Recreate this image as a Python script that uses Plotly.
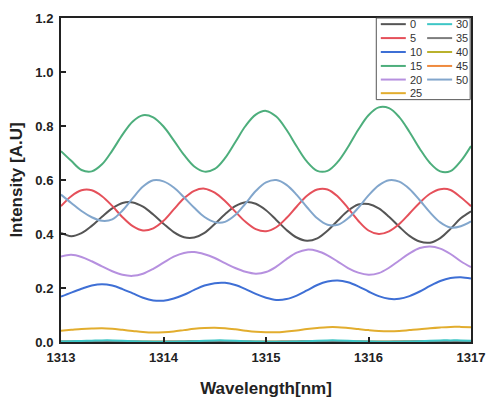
import plotly.graph_objects as go

# Wavelength grid (nm) shared by every spectrum
wavelength = [round(1313 + 0.1 * i, 1) for i in range(41)]

# Transmitted intensity for each setting (a.u.)
i_0 = [0.404, 0.392, 0.403, 0.430, 0.464, 0.495, 0.515, 0.517, 0.501, 0.472,
       0.438, 0.407, 0.388, 0.387, 0.404, 0.437, 0.473, 0.503, 0.518, 0.512,
       0.488, 0.452, 0.415, 0.387, 0.375, 0.384, 0.412, 0.450, 0.486, 0.509,
       0.511, 0.495, 0.464, 0.427, 0.393, 0.372, 0.368, 0.385, 0.419, 0.458,
       0.484]
i_5 = [0.503, 0.540, 0.562, 0.562, 0.540, 0.504, 0.462, 0.429, 0.413, 0.421,
       0.449, 0.491, 0.532, 0.560, 0.568, 0.553, 0.522, 0.483, 0.445, 0.418,
       0.410, 0.425, 0.459, 0.502, 0.542, 0.565, 0.565, 0.539, 0.496, 0.449,
       0.413, 0.400, 0.410, 0.437, 0.476, 0.516, 0.549, 0.566, 0.563, 0.536,
       0.503]
i_10 = [0.168, 0.183, 0.197, 0.209, 0.214, 0.209, 0.196, 0.180, 0.164, 0.154,
        0.153, 0.161, 0.175, 0.193, 0.209, 0.218, 0.219, 0.211, 0.196, 0.178,
        0.164, 0.156, 0.159, 0.172, 0.191, 0.211, 0.224, 0.228, 0.221, 0.206,
        0.187, 0.170, 0.160, 0.160, 0.170, 0.187, 0.208, 0.226, 0.237, 0.240,
        0.235]
i_15 = [0.707, 0.671, 0.637, 0.632, 0.658, 0.709, 0.768, 0.817, 0.840, 0.832,
        0.798, 0.747, 0.693, 0.650, 0.631, 0.641, 0.681, 0.740, 0.800, 0.842,
        0.856, 0.835, 0.786, 0.724, 0.668, 0.634, 0.634, 0.667, 0.722, 0.786,
        0.840, 0.869, 0.866, 0.833, 0.778, 0.716, 0.663, 0.632, 0.633, 0.670,
        0.726]
i_20 = [0.317, 0.323, 0.315, 0.299, 0.280, 0.262, 0.249, 0.245, 0.253, 0.271,
        0.294, 0.316, 0.330, 0.333, 0.325, 0.311, 0.292, 0.274, 0.260, 0.253,
        0.259, 0.279, 0.307, 0.331, 0.342, 0.337, 0.321, 0.298, 0.274, 0.257,
        0.249, 0.255, 0.275, 0.302, 0.328, 0.348, 0.354, 0.346, 0.326, 0.299,
        0.277]
i_25 = [0.042, 0.045, 0.048, 0.050, 0.051, 0.049, 0.045, 0.041, 0.037, 0.035,
        0.036, 0.039, 0.044, 0.049, 0.052, 0.053, 0.051, 0.047, 0.042, 0.038,
        0.036, 0.036, 0.039, 0.043, 0.048, 0.052, 0.055, 0.055, 0.052, 0.048,
        0.044, 0.041, 0.040, 0.041, 0.044, 0.047, 0.051, 0.054, 0.056, 0.056,
        0.055]
i_30 = [0.002, 0.003, 0.004, 0.005, 0.006, 0.006, 0.005, 0.003, 0.002, 0.001,
        0.001, 0.001, 0.002, 0.003, 0.005, 0.006, 0.006, 0.005, 0.003, 0.002,
        0.001, 0.001, 0.001, 0.002, 0.003, 0.005, 0.006, 0.006, 0.005, 0.003,
        0.002, 0.001, 0.001, 0.001, 0.002, 0.003, 0.005, 0.006, 0.006, 0.006,
        0.005]
i_35 = [0.002, 0.002, 0.003, 0.003, 0.003, 0.003, 0.002, 0.002, 0.001, 0.001,
        0.001, 0.002, 0.002, 0.003, 0.003, 0.003, 0.003, 0.002, 0.002, 0.001,
        0.001, 0.001, 0.002, 0.002, 0.003, 0.003, 0.003, 0.003, 0.002, 0.002,
        0.001, 0.001, 0.001, 0.002, 0.002, 0.003, 0.003, 0.003, 0.003, 0.002,
        0.002]
i_40 = [0.001, 0.001, 0.002, 0.002, 0.002, 0.002, 0.002, 0.001, 0.001, 0.001,
        0.001, 0.001, 0.001, 0.002, 0.002, 0.002, 0.002, 0.002, 0.001, 0.001,
        0.001, 0.001, 0.001, 0.001, 0.002, 0.002, 0.002, 0.002, 0.002, 0.001,
        0.001, 0.001, 0.001, 0.001, 0.002, 0.002, 0.002, 0.002, 0.002, 0.002,
        0.001]
i_45 = [0.001, 0.001, 0.001, 0.001, 0.001, 0.001, 0.001, 0.001, 0.001, 0.001,
        0.001, 0.001, 0.001, 0.001, 0.001, 0.001, 0.001, 0.001, 0.001, 0.001,
        0.001, 0.001, 0.001, 0.001, 0.001, 0.001, 0.001, 0.001, 0.001, 0.001,
        0.001, 0.001, 0.001, 0.001, 0.001, 0.001, 0.001, 0.001, 0.001, 0.001,
        0.001]
i_50 = [0.546, 0.515, 0.485, 0.462, 0.449, 0.454, 0.487, 0.533, 0.576, 0.599,
        0.595, 0.572, 0.536, 0.497, 0.463, 0.444, 0.445, 0.470, 0.513, 0.559,
        0.591, 0.600, 0.582, 0.545, 0.499, 0.458, 0.434, 0.434, 0.458, 0.497,
        0.543, 0.580, 0.599, 0.594, 0.567, 0.525, 0.480, 0.443, 0.424, 0.429,
        0.447]

series_names = ["0", "5", "10", "15", "20", "25", "30", "35", "40", "45", "50"]
series_values = [i_0, i_5, i_10, i_15, i_20, i_25, i_30, i_35, i_40, i_45, i_50]
series_colors = ["#555555", "#e5505a", "#3e6fd5", "#4dae7c", "#b690df", "#e2ad2e",
                 "#3ec6c6", "#7d7d7d", "#b9b12c", "#ef8a3e", "#82a6cc"]

# draw the near-zero curves first so the visible ones sit on top
draw_order = [9, 8, 7, 6, 5, 4, 2, 0, 1, 10, 3]

fig = go.Figure()
for k in draw_order:
    fig.add_trace(go.Scatter(
        x=wavelength, y=series_values[k], name=series_names[k], mode="lines",
        line=dict(color=series_colors[k], width=2, shape="spline", smoothing=1.0),
        showlegend=False,
    ))

# Compact two-column legend in a framed box at the top right
shapes = [dict(type="rect", xref="paper", yref="paper", x0=0.769, x1=0.998,
               y0=0.748, y1=1.0, line=dict(color="#555555", width=1),
               fillcolor="white", layer="above")]
annotations = []
row_y = [0.981, 0.938, 0.895, 0.852, 0.810, 0.768]
for idx, name in enumerate(series_names):
    col, row = divmod(idx, 6)
    x0, x1, xt = [(0.780, 0.841, 0.847), (0.893, 0.954, 0.959)][col]
    y = row_y[row]
    shapes.append(dict(type="line", xref="paper", yref="paper", x0=x0, x1=x1,
                       y0=y, y1=y, line=dict(color=series_colors[idx], width=2),
                       layer="above"))
    annotations.append(dict(xref="paper", yref="paper", x=xt, y=y, text=name,
                            showarrow=False, xanchor="left", yanchor="middle",
                            font=dict(family="Liberation Sans", size=11, color="#333333")))

axis_common = dict(
    showline=True, mirror=True, linecolor="#222222", linewidth=2,
    ticks="inside", ticklen=5, tickwidth=1.5, tickcolor="#222222",
    showgrid=False, zeroline=False, automargin=False,
    tickfont=dict(family="Liberation Sans", size=13, color="#222222", weight="bold"),
)
title_font = dict(family="Liberation Sans", size=17, color="#222222", weight="bold")

fig.update_layout(
    width=486, height=400,
    margin=dict(l=61, r=15, t=18, b=58),
    paper_bgcolor="white", plot_bgcolor="white",
    shapes=shapes, annotations=annotations,
    xaxis=dict(range=[1313, 1317], dtick=1, tick0=1313, ticklabelstandoff=2,
               title=dict(text="Wavelength[nm]", standoff=19, font=title_font),
               **axis_common),
    yaxis=dict(range=[0, 1.2], dtick=0.2, tick0=0, tickformat=".1f", ticklabelstandoff=3,
               title=dict(text="Intensity [A.U]", standoff=8, font=title_font),
               **axis_common),
)

fig.write_html("out.html")
